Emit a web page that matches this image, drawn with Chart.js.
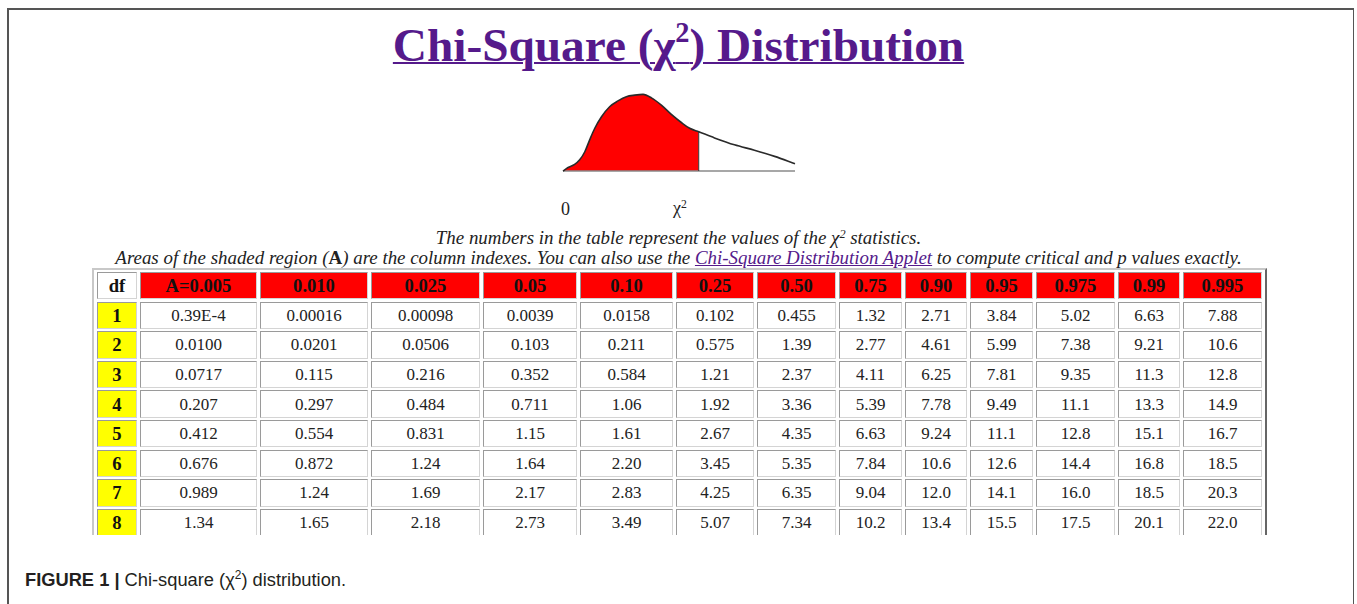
<!DOCTYPE html>
<html><head><meta charset="utf-8">
<script src="https://cdn.jsdelivr.net/npm/chart.js@4.4.1/dist/chart.umd.min.js"></script>
<style>
html,body{margin:0;padding:0;background:#fff;}
body{width:1357px;height:604px;position:relative;overflow:hidden;font-family:"Liberation Serif","Times New Roman",serif;color:#222;}
#frame{position:absolute;left:7px;top:8px;width:1347px;height:640px;border:2px solid #555;border-width:2px 1.5px 2px 2px;box-sizing:border-box;}
#title{position:absolute;left:0;top:22px;width:1357px;text-align:center;font-weight:bold;font-size:47.3px;line-height:47px;color:#551a8b;text-decoration:underline;text-decoration-thickness:2px;white-space:nowrap;}
#title sup{font-size:0.6em;line-height:0;vertical-align:0.66em;}
.it{position:absolute;left:0;width:1357px;text-align:center;font-style:italic;font-size:18.9px;line-height:19px;white-space:nowrap;color:#222;}
.it sup{font-size:0.65em;line-height:0;vertical-align:0.5em;}
.it a{color:#551a8b;text-decoration:underline;}
.lbl{position:absolute;font-size:18px;line-height:18px;color:#222;white-space:nowrap;}
.lbl sup{font-size:0.65em;line-height:0;vertical-align:0.5em;}
#curve{position:absolute;left:553px;top:84px;}
#tbl{position:absolute;left:92px;top:268px;width:1175px;height:267px;box-sizing:border-box;border:2px solid;border-color:#c8c8c8 #666 transparent #c8c8c8;border-bottom:none;overflow:hidden;}
.cell{position:absolute;box-sizing:border-box;border:1px solid;border-color:#9a9a9a #d4d4d4 #d4d4d4 #9a9a9a;display:flex;align-items:center;justify-content:center;font-size:17px;padding-top:1px;color:#222;white-space:nowrap;}
.hd{background:#ff0000;font-weight:bold;color:#111;font-size:18.6px;}
.dfh{background:#fff;font-weight:bold;color:#111;font-size:18.6px;}
.dfc{background:#ffff00;font-weight:bold;color:#111;font-size:18.6px;}
#cap{position:absolute;left:25px;top:571px;font-family:"Liberation Sans",Arial,sans-serif;font-size:18.3px;line-height:18px;color:#231f20;white-space:nowrap;}
#cap sup{font-size:0.65em;line-height:0;vertical-align:0.55em;}
</style>
</head>
<body>
<div id="frame"></div>
<div id="title">Chi-Square (χ<sup>2</sup>) Distribution</div>
<canvas id="curve" width="252" height="97"></canvas>
<div class="lbl" id="zero" style="left:561px;top:200px;">0</div>
<div class="lbl" id="chi" style="left:673px;top:199px;">χ<sup>2</sup></div>
<div class="it" style="top:228px;">The numbers in the table represent the values of the χ<sup>2</sup> statistics.</div>
<div class="it" style="top:248px;">Areas of the shaded region (<b style="font-style:normal">A</b>) are the column indexes. You can also use the <a>Chi-Square Distribution Applet</a> to compute critical and p values exactly.</div>
<div id="tbl"></div>
<div id="cap"><b>FIGURE 1 |</b> Chi-square (χ<sup>2</sup>) distribution.</div>
<script>
// ---- curve data ----
const curveX = [0, 0.22, 0.50, 0.72, 0.94, 1.15, 1.37, 1.66, 2.01, 2.37, 2.73, 3.09, 3.45, 3.81, 4.24, 4.67, 5.10, 5.46, 5.85, 6.53, 7.39, 8.25, 9.12, 10.0];
const curveY = [0, 0.009, 0.017, 0.029, 0.050, 0.081, 0.111, 0.141, 0.167, 0.182, 0.193, 0.197, 0.199, 0.190, 0.171, 0.147, 0.126, 0.111, 0.102, 0.086, 0.068, 0.054, 0.038, 0.019];
const cutoffIndex = 18;

// ---- table data ----
const alphaLabels = ["A=0.005","0.010","0.025","0.05","0.10","0.25","0.50","0.75","0.90","0.95","0.975","0.99","0.995"];
const dfLabels = ["1","2","3","4","5","6","7","8"];
const df1 = ["0.39E-4","0.00016","0.00098","0.0039","0.0158","0.102","0.455","1.32","2.71","3.84","5.02","6.63","7.88"];
const df2 = ["0.0100","0.0201","0.0506","0.103","0.211","0.575","1.39","2.77","4.61","5.99","7.38","9.21","10.6"];
const df3 = ["0.0717","0.115","0.216","0.352","0.584","1.21","2.37","4.11","6.25","7.81","9.35","11.3","12.8"];
const df4 = ["0.207","0.297","0.484","0.711","1.06","1.92","3.36","5.39","7.78","9.49","11.1","13.3","14.9"];
const df5 = ["0.412","0.554","0.831","1.15","1.61","2.67","4.35","6.63","9.24","11.1","12.8","15.1","16.7"];
const df6 = ["0.676","0.872","1.24","1.64","2.20","3.45","5.35","7.84","10.6","12.6","14.4","16.8","18.5"];
const df7 = ["0.989","1.24","1.69","2.17","2.83","4.25","6.35","9.04","12.0","14.1","16.0","18.5","20.3"];
const df8 = ["1.34","1.65","2.18","2.73","3.49","5.07","7.34","10.2","13.4","15.5","17.5","20.1","22.0"];
const tableRows = [df1, df2, df3, df4, df5, df6, df7, df8];

// ---- layout (positions only) ----
const colLeft  = [97,140,260,371,483,580,676,757,839,905,970,1036,1118,1183];
const colWidth = [40,117,108,109,94,93,78,79,63,62,63,79,62,79];
const rowTop0 = 272, rowPitch = 29.6, rowH = 27.4;

const tbl = document.getElementById('tbl');
function addCell(text, r, c, cls) {
  const d = document.createElement('div');
  d.className = 'cell ' + (cls || '');
  d.style.left = (colLeft[c] - 94) + 'px';
  d.style.top = (rowTop0 + r * rowPitch - 270) + 'px';
  d.style.width = colWidth[c] + 'px';
  d.style.height = rowH + 'px';
  d.textContent = text;
  tbl.appendChild(d);
}
addCell('df', 0, 0, 'dfh');
alphaLabels.forEach((a, i) => addCell(a, 0, i + 1, 'hd'));
tableRows.forEach((row, r) => {
  addCell(dfLabels[r], r + 1, 0, 'dfc');
  row.forEach((v, c) => addCell(v, r + 1, c + 1, ''));
});

// ---- chart ----
const curvePts = curveX.map((x, i) => ({x: x, y: curveY[i]}));
const shadedPts = curvePts.slice(0, cutoffIndex + 1);
const cutLine = [{x: curveX[cutoffIndex], y: 0}, {x: curveX[cutoffIndex], y: curveY[cutoffIndex]}];
const basePts = [{x: curveX[0], y: 0}, {x: curveX[curveX.length - 1], y: 0}];

new Chart(document.getElementById('curve'), {
  type: 'line',
  data: {
    datasets: [
      {data: curvePts, borderColor: '#2a2a2a', borderWidth: 1.6, fill: false, pointRadius: 0, tension: 0.35, cubicInterpolationMode: 'monotone', clip: false, order: 1},
      {data: cutLine, borderColor: '#333', borderWidth: 1, fill: false, pointRadius: 0, tension: 0, clip: false, order: 2},
      {data: basePts, borderColor: '#8a8a8a', borderWidth: 1.6, fill: false, pointRadius: 0, tension: 0, clip: false, order: 3},
      {data: shadedPts, borderColor: '#ff0000', borderWidth: 0, backgroundColor: '#ff0000', fill: 'origin', pointRadius: 0, tension: 0.35, cubicInterpolationMode: 'monotone', clip: false, order: 4}
    ]
  },
  options: {
    responsive: false,
    devicePixelRatio: 1,
    animation: false,
    events: [],
    layout: {padding: 10},
    plugins: {legend: {display: false}, tooltip: {enabled: false}},
    scales: {
      x: {type: 'linear', min: 0, max: 10, display: false},
      y: {type: 'linear', min: 0, max: 0.2, display: false}
    }
  }
});
</script>
</body></html>
